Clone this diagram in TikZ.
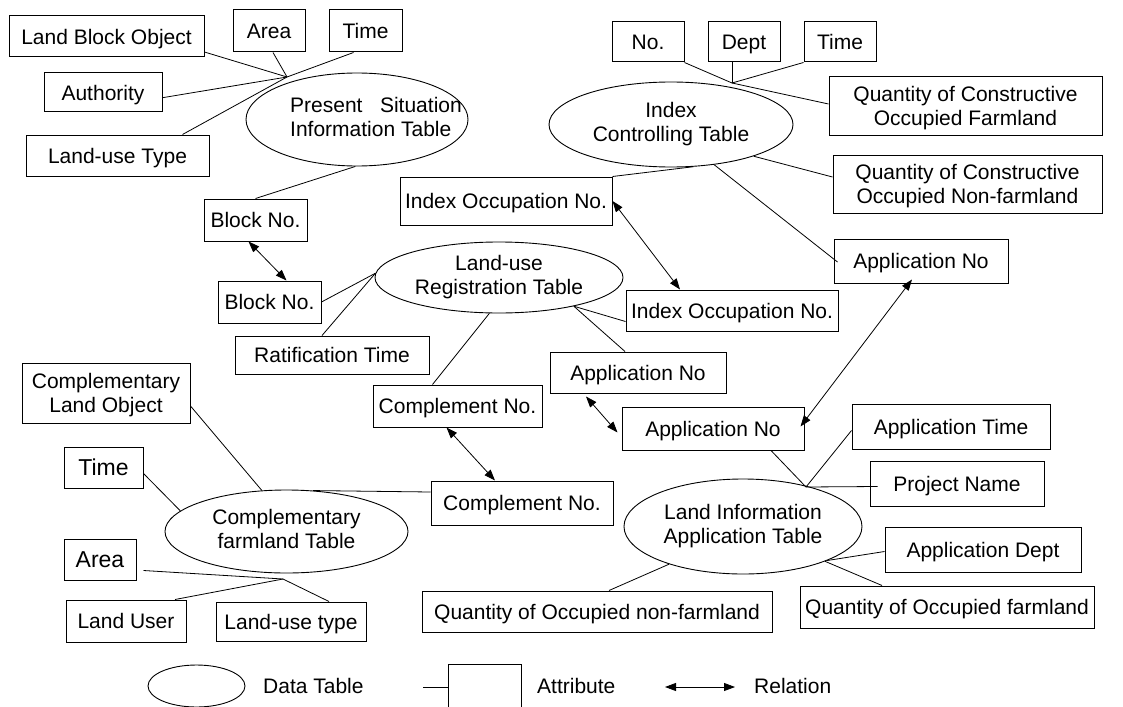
\documentclass[tikz,border=0pt]{standalone}
\usepackage{fontspec}
\setmainfont{Liberation Sans}
\usetikzlibrary{arrows.meta,calc,shapes.geometric}
\newcommand{\etext}[1]{\makebox[0pt]{\begin{tabular}{@{}c@{}}#1\end{tabular}}}
\begin{document}
\begin{tikzpicture}[x=1pt,y=-1pt,
  base/.style={font=\fontsize{21}{24}\selectfont, inner sep=0pt},
  attr/.style={base, draw, line width=1pt, align=center, text depth=0pt},
  tbl/.style={base, draw, line width=0.9pt, ellipse},
  conn/.style={line width=0.8pt},
  rel/.style={line width=0.8pt, {Triangle[length=11pt,width=8pt]}-{Triangle[length=11pt,width=8pt]}}]
\useasboundingbox (0,0) rectangle (1123,706);
% ---- Present Situation cluster
\node[attr, minimum width=195, minimum height=41] (lbo) at (106.5,36.5) {Land Block Object};
\node[attr, minimum width=72, minimum height=42] (area1) at (269,31) {Area};
\node[attr, minimum width=73, minimum height=42] (time1) at (365.5,31) {Time};
\node[attr, minimum width=118, minimum height=39] (auth) at (103,92.5) {Authority};
\node[attr, minimum width=183, minimum height=41] (lut) at (117.5,155.5) {Land-use Type};
\node[tbl, minimum width=222, minimum height=93] (psit) at (357,119.5)
  {\makebox[0pt]{\hspace{38pt}\begin{tabular}{@{}l@{}}Present\ \ \ Situation\\Information Table\end{tabular}}};
\coordinate (j1) at (287,77);
\node[attr, minimum width=103, minimum height=42] (bno1) at (255.5,220) {Block No.};
\node[attr, minimum width=103, minimum height=42] (bno2) at (269.5,302) {Block No.};
% ---- Index Controlling cluster
\node[attr, minimum width=72, minimum height=40] (no) at (648,42) {No.};
\node[attr, minimum width=72, minimum height=40] (dept) at (744,42) {Dept};
\node[attr, minimum width=72, minimum height=40] (time2) at (840,42) {Time};
\coordinate (j2) at (732,83);
\node[tbl, minimum width=244, minimum height=85] (ict) at (671,124.5) {\etext{Index\\Controlling Table}};
\node[attr, minimum width=273, minimum height=58] (qcf) at (965.5,106) {Quantity of Constructive\\Occupied Farmland};
\node[attr, minimum width=269, minimum height=58] (qcnf) at (967.5,184) {Quantity of Constructive\\Occupied Non-farmland};
\node[attr, minimum width=212, minimum height=48] (ioc1) at (506,201) {Index Occupation No.};
\node[attr, minimum width=174, minimum height=44] (apn3) at (921,261) {Application No};
% ---- Land-use Registration cluster
\node[tbl, minimum width=248, minimum height=71] (lurt) at (499,277.5) {\etext{Land-use\\Registration Table}};
\node[attr, minimum width=194, minimum height=38] (rat) at (332,355) {Ratification Time};
\node[attr, minimum width=169, minimum height=42] (cno1) at (457.5,406) {Complement No.};
\node[attr, minimum width=212, minimum height=41] (ioc2) at (732,310.5) {Index Occupation No.};
\node[attr, minimum width=176, minimum height=41] (apn1) at (638,372.5) {Application No};
\node[attr, minimum width=182, minimum height=43] (apn2) at (713,428.5) {Application No};
% ---- Complementary farmland cluster
\node[attr, minimum width=168, minimum height=60] (clo) at (106,393) {Complementary\\Land Object};
\node[attr, minimum width=79, minimum height=41, font=\fontsize{23}{26}\selectfont] (time3) at (103.5,467.5) {Time};
\node[tbl, minimum width=243, minimum height=83] (cft) at (286.5,531.5) {\etext{Complementary\\farmland Table}};
\node[attr, minimum width=182, minimum height=44] (cno2) at (522,503) {Complement No.};
\node[attr, minimum width=72, minimum height=41, font=\fontsize{23}{26}\selectfont] (area3) at (100,559.5) {Area};
\node[attr, minimum width=120, minimum height=42] (luser) at (126,621) {Land User};
\node[attr, minimum width=150, minimum height=39] (lutype) at (291,621.5) {Land-use type};
\coordinate (j4) at (283,579);
% ---- Land Information Application cluster
\node[attr, minimum width=198, minimum height=45] (apt) at (951,426.5) {Application Time};
\node[attr, minimum width=174, minimum height=45] (pn) at (957,483.5) {Project Name};
\coordinate (j3) at (806,487);
\node[tbl, minimum width=238, minimum height=95] (liat) at (743,526.5) {\etext{Land Information\\Application Table}};
\node[attr, minimum width=196, minimum height=45] (ad) at (983,549.5) {Application Dept};
\node[attr, minimum width=294, minimum height=42] (qof) at (947,607) {Quantity of Occupied farmland};
\node[attr, minimum width=350, minimum height=41] (qonf) at (597,611.5) {Quantity of Occupied non-farmland};
% ---- Legend
\node[tbl, minimum width=97, minimum height=42] (lge) at (196.5,686) {};
\node[base, anchor=west] (lgt1) at (263,686) {Data Table};
\coordinate (lgl) at (423,687);
\node[attr, minimum width=73, minimum height=46] (lgb) at (484.5,687) {};
\node[base, anchor=west] (lgt2) at (537,686) {Attribute};
\coordinate (lr1) at (665,687);
\coordinate (lr2) at (735,687);
\node[base, anchor=west] (lgt3) at (754,686) {Relation};
% ---- connectors
\draw[conn] (lbo.-9) -- (j1);
\draw[conn] ($(area1.south)+(4,0)$) -- (j1);
\draw[conn] ($(time1.south)+(-12,0)$) -- (j1);
\draw[conn] (auth.-5) -- (j1);
\draw[conn] ($(lut.north)+(65,0)$) -- (j1);
\draw[conn] (bno1.north) -- (psit.-92);
\draw[rel] ($(bno1.south)+(-7,0)$) -- ($(bno2.north)+(17,0)$);
\draw[conn] (bno2.east) -- (lurt.178);
\draw[conn] (lurt.178) -- ($(rat.north)+(-10,0)$);
\draw[conn] (lurt.-105) -- ($(cno1.north)+(-25,0)$);
\draw[conn] (lurt.-21) -- ($(ioc2.west)+(0,11)$);
\draw[conn] (lurt.-21) -- ($(apn1.north)+(-13,0)$);
\draw[rel] ($(cno1.south)+(-11,0)$) -- ($(cno2.north)+(-27,0)$);
\draw[rel] ($(apn1.south)+(-52,3)$) -- ($(apn2.west)+(-4,4)$);
\draw[conn] (no.south east) -- (j2);
\draw[conn] ($(dept.south)+(-12,0)$) -- (j2);
\draw[conn] (time2.south west) -- (j2);
\draw[conn] (j2) -- ($(qcf.west)+(0,-2)$);
\draw[conn] (ict.-21) -- ($(qcnf.west)+(0,-7)$);
\draw[conn] (ict.-62) -- (ioc1.north east);
\draw[conn] (ict.-43) -- ($(apn3.west)+(4,1)$);
\draw[rel] (ioc1.east) -- ($(ioc2.north)+(-52,0)$);
\draw[rel] ($(apn3.south)+(-9,-4)$) -- ($(apn2.east)+(-4,-2)$);
\draw[conn] ($(apn2.south)+(58,0)$) -- (j3);
\draw[conn] ($(apt.west)+(0,4)$) -- (j3);
\draw[conn] ($(pn.west)+(8,3)$) -- (j3);
\draw[conn] (liat.-22) -- ($(ad.west)+(0,2)$);
\draw[conn] (liat.-23) -- ($(qof.north)+(-65,0)$);
\draw[conn] (liat.-153) -- ($(qonf.north)+(12,0)$);
\draw[conn] ($(clo.east)+(0,13)$) -- (cft.121);
\draw[conn] ($(time3.east)+(0,6)$) -- (cft.169);
\draw[conn] (cft.57) -- ($(cno2.west)+(0,-11)$);
\draw[conn] ($(area3.east)+(7,11)$) -- (j4);
\draw[conn] ($(luser.north)+(49,0)$) -- (j4);
\draw[conn] ($(lutype.north)+(38,0)$) -- (j4);
\draw[conn] (lgl) -- (lgb.west);
\draw[rel] (lr1) -- (lr2);
\end{tikzpicture}
\end{document}
